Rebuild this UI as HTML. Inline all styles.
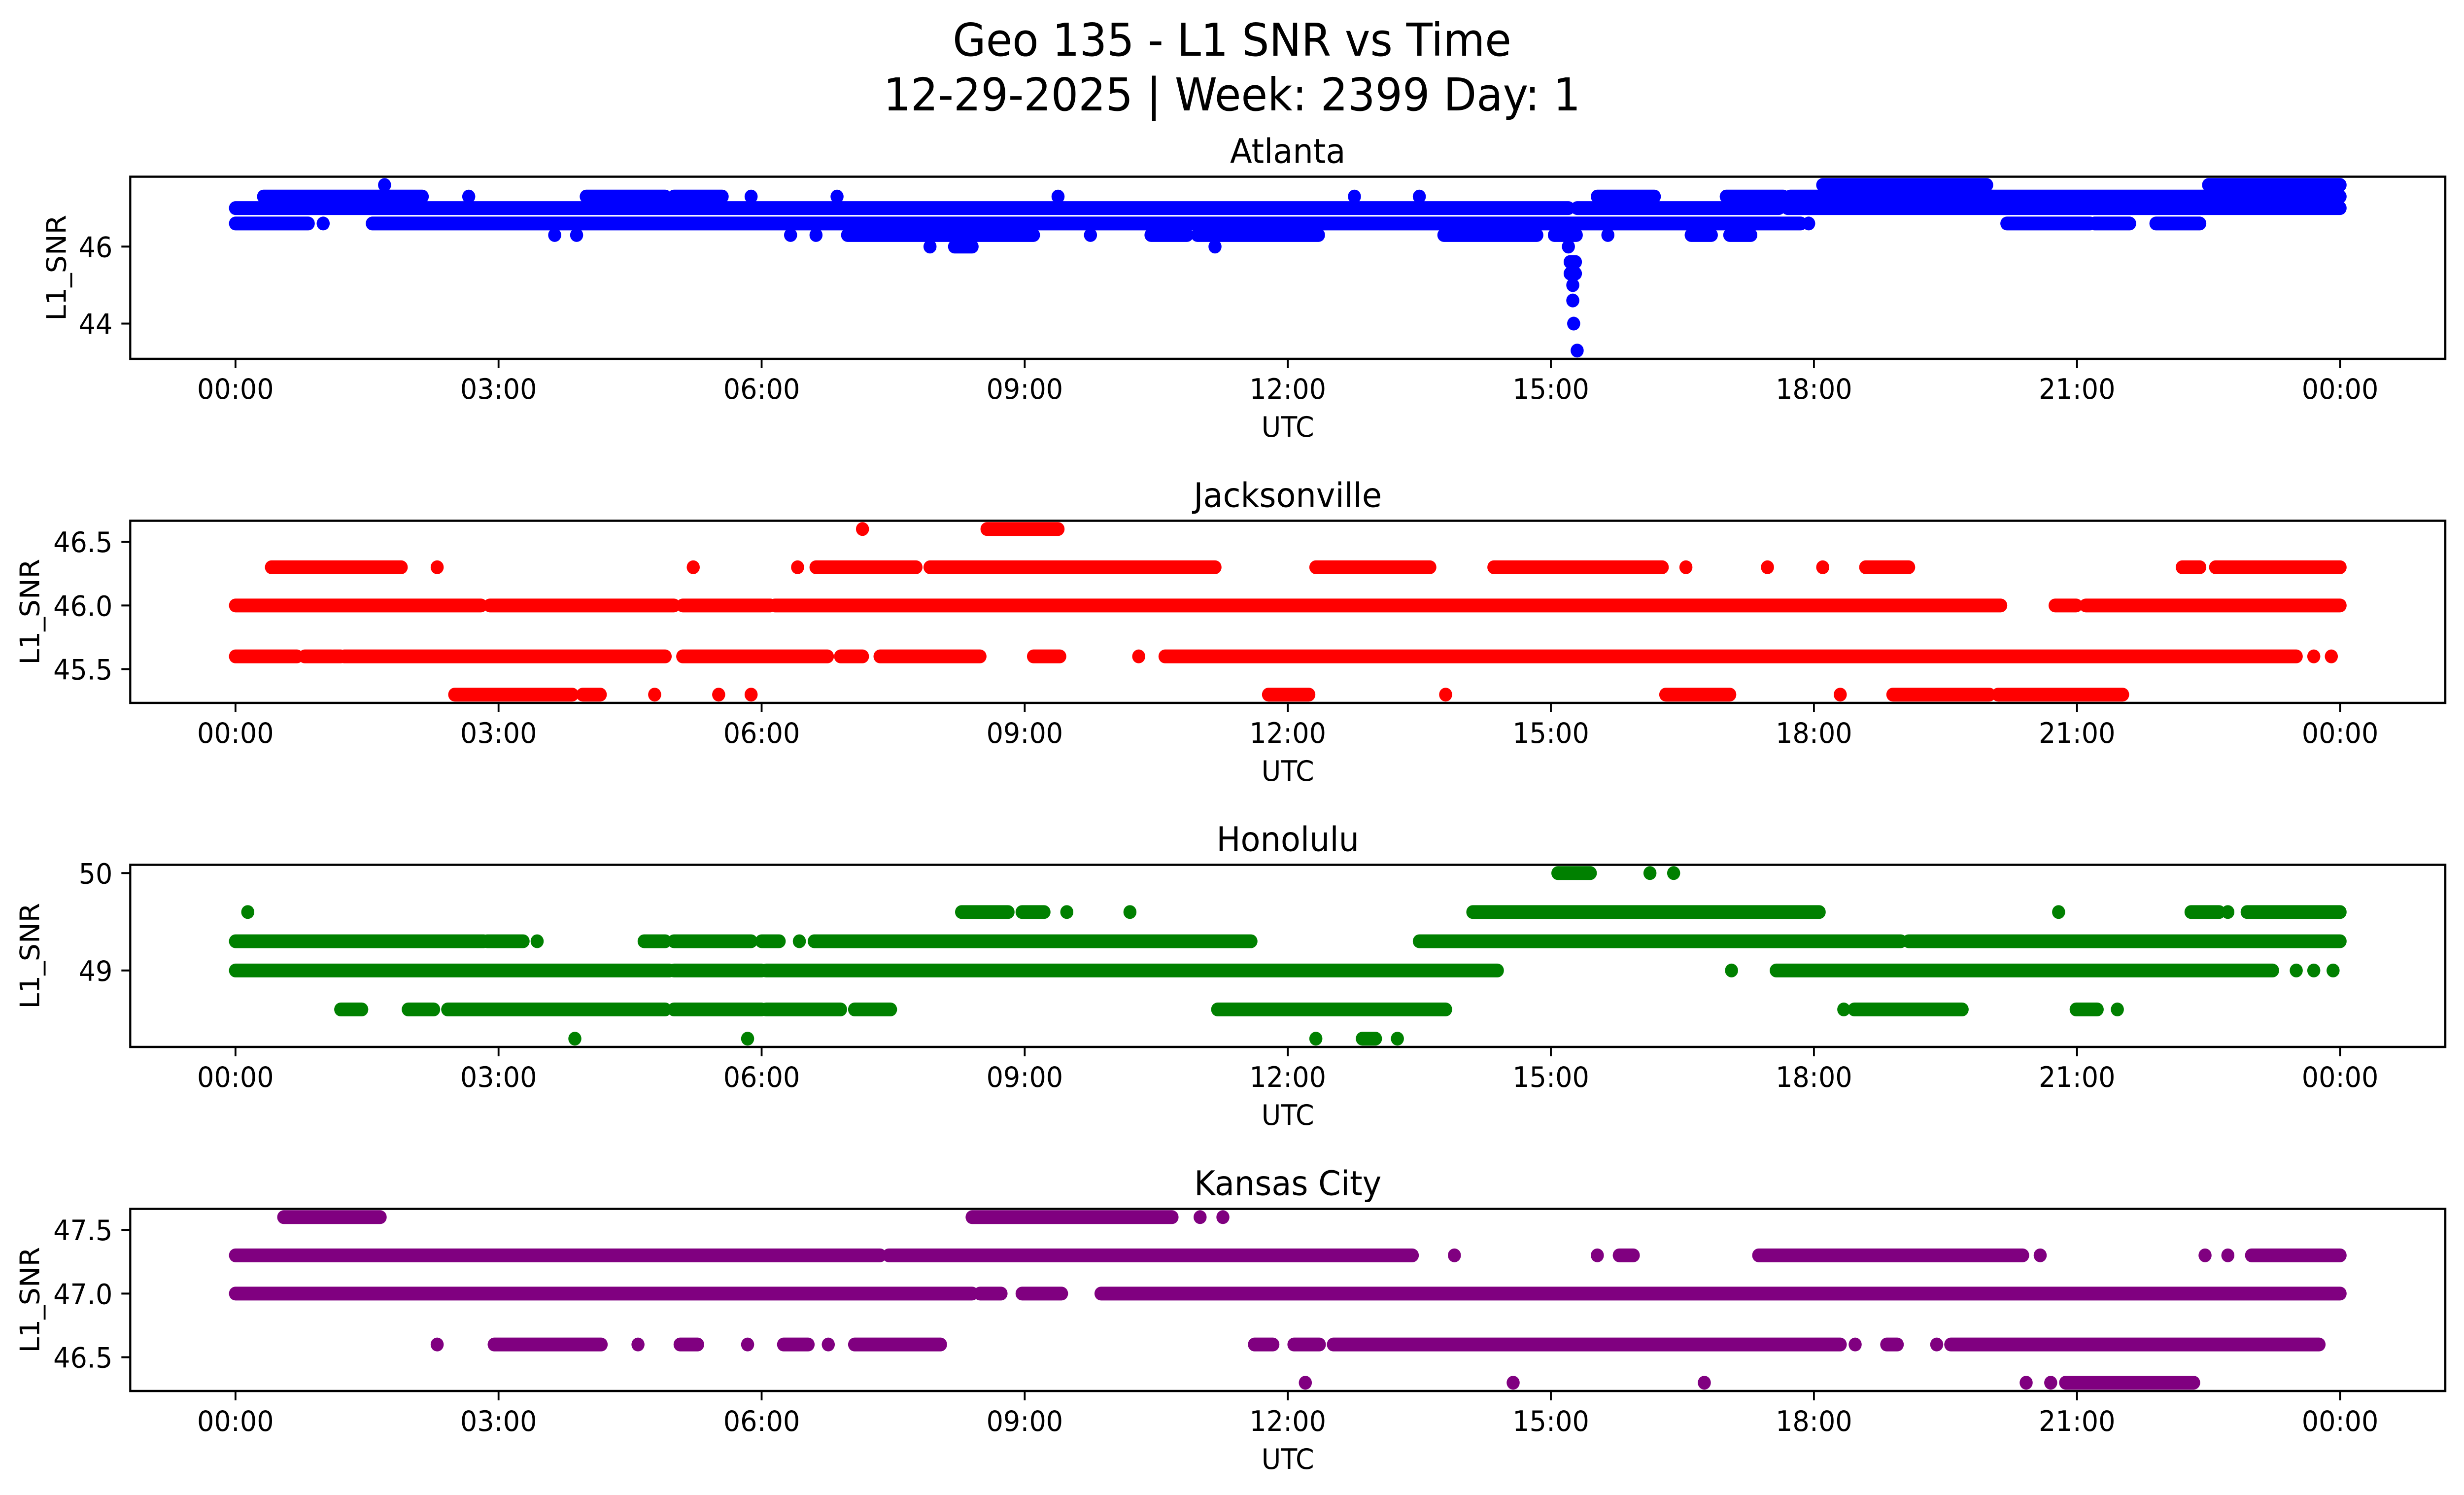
<!DOCTYPE html>
<html><head><meta charset="utf-8"><style>
html,body{margin:0;padding:0;background:#fff;overflow:hidden;width:100vw;height:100vh;}
svg{display:block;position:absolute;left:0;top:0;width:100vw;height:100vh;}
text{font-family:"DejaVu Sans","Liberation Sans",sans-serif;fill:#000;}
</style></head><body>
<svg id="chart" viewBox="0 0 5278 3033" preserveAspectRatio="none" xmlns="http://www.w3.org/2000/svg">
<rect width="5278" height="3033" fill="#fff"/>
<text x="2639" y="113" font-size="92" text-anchor="middle">Geo 135 - L1 SNR vs Time</text>
<text x="2639" y="224" font-size="92" text-anchor="middle">12-29-2025 | Week: 2399 Day: 1</text>
</svg>
<script>
// Data: each series is a list of [snrLevel, [[startHour,endHour] or [hour], ...]]
const stations = ["Atlanta","Jacksonville","Honolulu","Kansas City"];
const colors = ["#0000ff","#ff0000","#008000","#800080"];
const yDomains = [[43.085,47.815],[45.235,46.665],[48.215,50.085],[46.235,47.665]];
const yTicks = [[44,46],[45.5,46.0,46.5],[49,50],[46.5,47.0,47.5]];
const yTickLabels = [["44","46"],["45.5","46.0","46.5"],["49","50"],["46.5","47.0","47.5"]];
const xTickHours = [0,3,6,9,12,15,18,21,24];
const xTickLabels = ["00:00","03:00","06:00","09:00","12:00","15:00","18:00","21:00","00:00"];

const atlantaData = [
 [47.6,[[1.7],[18.1,19.97],[22.5,24.0]]],
 [47.3,[[0.32,2.13],[2.66],[4.0,4.9],[5.0,5.55],[5.88],[6.86],[9.38],[12.76],[13.5],[15.53,16.18],[17.0,17.65],[17.73,24.0]]],
 [47.0,[[0,15.2],[15.3,17.6],[17.7,24.0]]],
 [46.6,[[0,0.83],[1.0],[1.56,17.85],[17.94],[20.2,21.15],[21.2,21.6],[21.9,22.4]]],
 [46.3,[[3.64],[3.89],[6.33],[6.62],[6.98,9.1],[9.75],[10.44,10.85],[10.97,12.35],[13.78,14.84],[15.04,15.29],[15.65],[16.6,16.83],[17.04,17.28]]],
 [46.0,[[7.92],[8.2,8.4],[11.17],[15.2]]],
 [45.6,[[15.22,15.28]]],[45.3,[[15.22,15.28]]],[45.0,[[15.25]]],[44.6,[[15.25]]],[44.0,[[15.26]]],[43.3,[[15.3]]]
];
const jacksonvilleData = [
 [46.6,[[7.15],[8.57,9.38]]],
 [46.3,[[0.41,1.89],[2.3],[5.22],[6.41],[6.62,7.76],[7.92,11.17],[12.32,13.62],[14.35,16.27],[16.54],[17.47],[18.1],[18.59,19.08],[22.2,22.4],[22.58,24.0]]],
 [46.0,[[0,2.8],[2.9,5.0],[5.1,6.1],[6.15,20.13],[20.75,20.99],[21.1,24.0]]],
 [45.6,[[0,0.7],[0.79,1.2],[1.24,4.9],[5.1,6.75],[6.9,7.15],[7.35,8.49],[9.1,9.4],[10.3],[10.6,23.5],[23.7],[23.9]]],
 [45.3,[[2.5,3.84],[3.96,4.16],[4.78],[5.51],[5.88],[11.78,12.24],[13.8],[16.31,17.04],[18.3],[18.9,20.0],[20.1,21.52]]]
];
const honoluluData = [
 [50.0,[[15.08,15.45],[16.13],[16.4]]],
 [49.6,[[0.14],[8.28,8.81],[8.97,9.22],[9.48],[10.2],[14.11,18.06],[20.79],[22.3,22.62],[22.72],[22.94,24.0]]],
 [49.3,[[0,2.83],[2.87,3.28],[3.44],[4.66,4.9],[5.0,5.88],[6.0,6.2],[6.43],[6.6,11.58],[13.5,18.99],[19.08,24.0]]],
 [49.0,[[0,4.95],[5.0,6.0],[6.05,14.39],[17.06],[17.57,23.23],[23.5],[23.7],[23.92]]],
 [48.6,[[1.2,1.44],[1.97,2.26],[2.42,4.9],[5.0,6.0],[6.05,6.9],[7.06,7.47],[11.2,13.8],[18.34],[18.46,19.69],[20.99,21.23],[21.46]]],
 [48.3,[[3.87],[5.84],[12.32],[12.85,13.0],[13.25]]]
];
const kansasData = [
 [47.6,[[0.55,1.65],[8.4,10.68],[11.0],[11.26]]],
 [47.3,[[0,7.35],[7.45,13.42],[13.9],[15.53],[15.78,15.94],[17.37,20.38],[20.58],[22.46],[22.72],[22.99,24.0]]],
 [47.0,[[0,8.4],[8.49,8.73],[8.97,9.42],[9.87,24.0]]],
 [46.6,[[2.3],[2.95,4.17],[4.59],[5.07,5.27],[5.84],[6.25,6.53],[6.76],[7.06,8.04],[11.62,11.83],[12.07,12.36],[12.52,18.3],[18.47],[18.83,18.95],[19.4],[19.56,23.76]]],
 [46.3,[[12.2],[14.57],[16.75],[20.42],[20.7],[20.87,22.33]]]
];
const allData = [atlantaData, jacksonvilleData, honoluluData, kansasData];

const NS = "http://www.w3.org/2000/svg";
const svg = document.getElementById("chart");
const L = 279, R = 5238, H = 369.5;
const tops = [358.5, 1056.5, 1754.5, 2452.5];
const xMin = -1.2, xMax = 25.2;
const MR = 14;
function X(h){ return L + (h - xMin) / (xMax - xMin) * (R - L); }
function mk(tag, attrs){ const e = document.createElementNS(NS, tag); for (const k in attrs) e.setAttribute(k, attrs[k]); return e; }

for (let p = 0; p < 4; p++) {
  const top = tops[p], bot = top + H;
  const [y0, y1] = yDomains[p];
  const Y = v => bot - (v - y0) / (y1 - y0) * H;
  const g = mk("g", {});
  
  
  svg.appendChild(g);
  const marks = mk("g", {fill: colors[p]});
  
  
  g.appendChild(marks);
  allData[p].forEach(([lvl, ranges]) => {
    ranges.forEach(r => {
      const a = r[0], b = r.length > 1 ? r[1] : r[0];
      const x1 = X(a), x2 = X(b);
      const rc = mk("rect", {x: x1 - MR, y: Y(lvl) - MR, width: x2 - x1 + 2 * MR, height: 2 * MR, rx: MR, ry: MR});
      
      
      marks.appendChild(rc);
    });
  });
  const fr = mk("rect", {x: L, y: top, width: R - L, height: H, fill: "none", stroke: "#000", "stroke-width": 4.5});
  
  
  g.appendChild(fr);
  xTickHours.forEach((h, i) => {
    const x = X(h);
    const t = mk("line", {x1: x, x2: x, y1: bot, y2: bot + 19, stroke: "#000", "stroke-width": 4});
    
    
    g.appendChild(t);
    const tl = mk("text", {x: x, y: bot + 81, "font-size": 57, "text-anchor": "middle"});
    tl.textContent = xTickLabels[i];
    
    
    g.appendChild(tl);
  });
  yTicks[p].forEach((v, i) => {
    const y = Y(v);
    const t = mk("line", {x1: L - 19, x2: L, y1: y, y2: y, stroke: "#000", "stroke-width": 4});
    
    
    g.appendChild(t);
    const tl = mk("text", {x: L - 38, y: y + 21, "font-size": 57, "text-anchor": "end"});
    tl.textContent = yTickLabels[p][i];
    
    
    g.appendChild(tl);
  });
  const xl = mk("text", {x: (L + R) / 2, y: bot + 158, "font-size": 57, "text-anchor": "middle"});
  xl.textContent = "UTC";
  
  
  g.appendChild(xl);
  const ylx = p === 0 ? 141 : 84;
  const yl = mk("text", {x: ylx, y: top + H / 2, "font-size": 57, "text-anchor": "middle", transform: "rotate(-90 " + ylx + " " + (top + H / 2) + ")"});
  yl.textContent = "L1_SNR";
  
  
  g.appendChild(yl);
  const st = mk("text", {x: (L + R) / 2, y: top - 28, "font-size": 69, "text-anchor": "middle"});
  st.textContent = stations[p];
  
  
  g.appendChild(st);
}
</script>
</body></html>
